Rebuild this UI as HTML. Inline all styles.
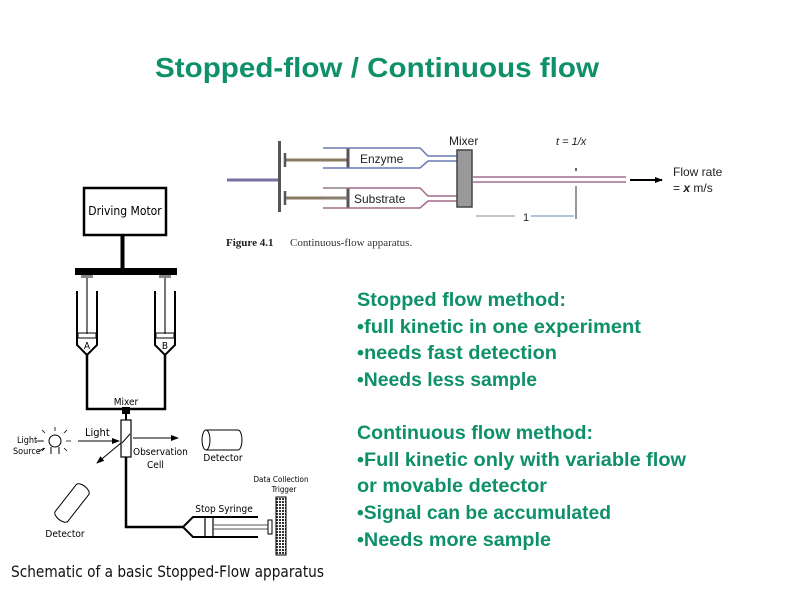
<!DOCTYPE html>
<html><head><meta charset="utf-8"><style>
html,body{margin:0;padding:0;background:#fff;width:800px;height:600px;overflow:hidden}
</style></head><body>
<svg width="800" height="600" viewBox="0 0 800 600" xmlns="http://www.w3.org/2000/svg">
<defs>
<marker id="ah" markerWidth="8" markerHeight="6" refX="7" refY="3" orient="auto" markerUnits="userSpaceOnUse"><path d="M0,0 L8,3 L0,6 z" fill="#000"/></marker>
<pattern id="hatch" width="3" height="3" patternUnits="userSpaceOnUse"><rect width="3" height="3" fill="#fff"/><rect width="2" height="2" fill="#333"/></pattern>
</defs>
<text x="377" y="77" text-anchor="middle" font-family="Liberation Sans, sans-serif" font-weight="bold" font-size="28" fill="#0e9068" textLength="444" lengthAdjust="spacingAndGlyphs">Stopped-flow / Continuous flow</text>

<g stroke="#555" fill="none" stroke-width="1.5">
<line x1="227" y1="180" x2="278" y2="180" stroke="#7a6fa0" stroke-width="3"/>
<line x1="279.5" y1="141" x2="279.5" y2="212" stroke="#555" stroke-width="3"/>
<line x1="285" y1="160" x2="348" y2="160" stroke="#8a7a60" stroke-width="3"/>
<line x1="285" y1="198" x2="348" y2="198" stroke="#8a7a60" stroke-width="3"/>
<line x1="285" y1="153" x2="285" y2="167" stroke-width="2.5"/>
<line x1="285" y1="191" x2="285" y2="205" stroke-width="2.5"/>
<line x1="348" y1="148" x2="348" y2="168" stroke-width="3"/>
<line x1="348" y1="188" x2="348" y2="208" stroke-width="3"/>
<path d="M323,148 H420 L428,156 H457 M323,168 H420 L428,161 H457" stroke="#6a7ab0"/>
<path d="M323,188 H420 L428,196 H457 M323,208 H420 L428,201 H457" stroke="#a06a8a"/>
<path d="M323,188 H348 M323,198 H348" stroke="#888" stroke-width="1"/>
<rect x="457" y="150" width="15" height="57" fill="#999" stroke="#444"/>
<path d="M473,177 H626 M473,182 H626" stroke="#a07090"/>
<line x1="576" y1="186" x2="576" y2="219" stroke="#333" stroke-width="1"/>
<line x1="576" y1="168" x2="576" y2="171" stroke="#333" stroke-width="1.5"/>
<line x1="476" y1="216" x2="515" y2="216" stroke="#888" stroke-width="1"/>
<line x1="531" y1="216" x2="574" y2="216" stroke="#6a8ab0" stroke-width="1"/>
<line x1="630" y1="180" x2="662" y2="180" stroke="#000" stroke-width="2" marker-end="url(#ah)"/>
</g>
<g font-family="Liberation Sans, sans-serif" font-size="12" fill="#222">
<text x="449" y="145">Mixer</text>
<text x="360" y="163">Enzyme</text>
<text x="354" y="203">Substrate</text>
<text x="556" y="145" font-size="11" font-style="italic">t = 1/x</text>
<text x="523" y="221" font-size="11">1</text>
<text x="673" y="176">Flow rate</text>
<text x="673" y="192">= <tspan font-style="italic" font-weight="bold">x</tspan> m/s</text>
<text x="226" y="246" font-family="Liberation Serif, serif" font-weight="bold" font-size="11">Figure 4.1</text>
<text x="290" y="246" font-family="Liberation Serif, serif" font-size="11" fill="#333">Continuous-flow apparatus.</text>
</g>

<g stroke="#000" fill="none" stroke-width="2">
<rect x="84" y="188" width="82" height="47" stroke-width="2.5"/>
<line x1="122.5" y1="235" x2="122.5" y2="268" stroke-width="4"/>
<rect x="75" y="268" width="102" height="7" fill="#000" stroke="none"/>
<rect x="81" y="275" width="12" height="3" fill="#888" stroke="none"/>
<rect x="159" y="275" width="12" height="3" fill="#888" stroke="none"/>
<line x1="87" y1="278" x2="87" y2="334" stroke="#777" stroke-width="2"/>
<line x1="165" y1="278" x2="165" y2="334" stroke="#777" stroke-width="2"/>
<path d="M77,291 V345 L87,355 L97,345 V291"/>
<path d="M155,291 V345 L165,355 L175,345 V291"/>
<rect x="78" y="333" width="18" height="5" stroke-width="1"/>
<rect x="156" y="333" width="18" height="5" stroke-width="1"/>
<path d="M87,355 V409 H165 V355" stroke-width="2.5"/>
<rect x="122" y="407" width="8" height="7" fill="#000" stroke="none"/>
<line x1="126" y1="414" x2="126" y2="420"/>
<rect x="121" y="420" width="10" height="37" stroke-width="1.2"/>
<line x1="122" y1="443" x2="130" y2="434" stroke-width="1"/>
<path d="M126,457 V527 H183" stroke-width="2.5"/>
<path d="M183,527 L193,517 H258 M183,527 L193,537 H258" stroke-width="2"/>
<line x1="205" y1="517" x2="205" y2="537" stroke-width="1.2"/>
<line x1="213" y1="517" x2="213" y2="537" stroke-width="1.2"/>
<line x1="213" y1="525" x2="268" y2="525" stroke-width="1" stroke="#555"/>
<line x1="213" y1="529" x2="268" y2="529" stroke-width="1" stroke="#555"/>
<rect x="268" y="520" width="4" height="14" stroke-width="1"/>
<rect x="276" y="497" width="10" height="58" fill="url(#hatch)" stroke-width="1"/>
<line x1="78" y1="441" x2="119" y2="441" stroke-width="1" marker-end="url(#ah)"/>
<line x1="133" y1="438" x2="178" y2="438" stroke-width="1" marker-end="url(#ah)"/>
<line x1="121" y1="443" x2="97" y2="463" stroke-width="1" marker-end="url(#ah)"/>
<circle cx="55" cy="441" r="6" stroke-width="1"/>
<path d="M51,447 V454 M59,447 V454" stroke-width="1"/>
<g stroke-width="0.8"><path d="M45,433 L42,430 M55,431 V427 M64,433 L67,430 M66,441 H71 M64,448 L67,451 M45,448 L42,451 M43,441 H38"/></g>
<path d="M36,441 H44 M38,452 L44,448" stroke-width="0.8"/>
<path d="M206,430 H238 A4,10 0 0 1 238,450 H206 A4,10 0 0 1 206,430 Z M206,430 A4,10 0 0 1 206,450" stroke-width="1"/>
<g transform="translate(72,503) rotate(-52)"><path d="M-17,-8 H17 A4,8 0 0 1 17,8 H-17 A4,8 0 0 1 -17,-8 Z M-17,-8 A4,8 0 0 0 -17,8" stroke-width="1"/></g>
</g>
<g font-family="DejaVu Sans Condensed, DejaVu Sans, sans-serif" font-size="11" fill="#000">
<text x="125" y="215" text-anchor="middle" font-size="12">Driving Motor</text>
<text x="87" y="355" text-anchor="middle" font-size="10" dy="-6">A</text>
<text x="165" y="355" text-anchor="middle" font-size="10" dy="-6">B</text>
<text x="126" y="405" text-anchor="middle" font-size="10">Mixer</text>
<text x="85" y="436" font-size="11">Light</text>
<text x="17" y="443" font-size="9">Light</text>
<text x="13" y="454" font-size="9">Source</text>
<text x="133" y="455" font-size="10">Observation</text>
<text x="147" y="468" font-size="10">Cell</text>
<text x="223" y="461" text-anchor="middle" font-size="10">Detector</text>
<text x="65" y="537" text-anchor="middle" font-size="10">Detector</text>
<text x="224" y="512" text-anchor="middle" font-size="10">Stop Syringe</text>
<text x="281" y="482" text-anchor="middle" font-size="8">Data Collection</text>
<text x="284" y="492" text-anchor="middle" font-size="8">Trigger</text>
<text x="11" y="577" font-size="16" fill="#111" textLength="313" lengthAdjust="spacingAndGlyphs">Schematic of a basic Stopped-Flow apparatus</text>
</g>

<g font-family="Liberation Sans, sans-serif" font-weight="bold" font-size="19" fill="#0e9068">
<text x="357" y="306" textLength="209" lengthAdjust="spacingAndGlyphs">Stopped flow method:</text>
<text x="357" y="333" textLength="284" lengthAdjust="spacingAndGlyphs">•full kinetic in one experiment</text>
<text x="357" y="359" textLength="200" lengthAdjust="spacingAndGlyphs">•needs fast detection</text>
<text x="357" y="386" textLength="180" lengthAdjust="spacingAndGlyphs">•Needs less sample</text>
<text x="357" y="439" textLength="236" lengthAdjust="spacingAndGlyphs">Continuous flow method:</text>
<text x="357" y="466" textLength="329" lengthAdjust="spacingAndGlyphs">•Full kinetic only with variable flow</text>
<text x="357" y="492" textLength="190" lengthAdjust="spacingAndGlyphs">or movable detector</text>
<text x="357" y="519" textLength="254" lengthAdjust="spacingAndGlyphs">•Signal can be accumulated</text>
<text x="357" y="546" textLength="194" lengthAdjust="spacingAndGlyphs">•Needs more sample</text>
</g>
</svg>
</body></html>
